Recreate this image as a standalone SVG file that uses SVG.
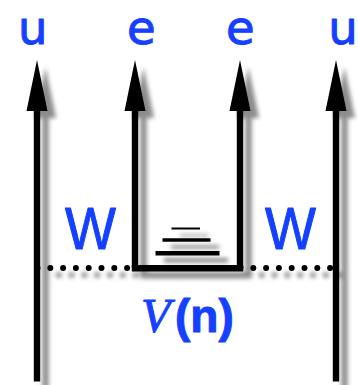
<svg xmlns="http://www.w3.org/2000/svg" width="358" height="385" viewBox="0 0 358 385">
<defs>
<filter id="sh" filterUnits="userSpaceOnUse" x="0" y="40" width="358" height="345"><feDropShadow dx="8.5" dy="7" stdDeviation="2" flood-color="#000" flood-opacity="0.45"/></filter>
</defs>
<style>
.ln{fill:none;stroke:#000;stroke-width:6.4}
.dot{fill:none;stroke:#000;stroke-width:6;stroke-linecap:round;stroke-dasharray:0 12.8}
.st{stroke:#000;fill:none}
.t{font-family:"Liberation Sans",Arial,sans-serif;fill:#1440ff;stroke:#1440ff;stroke-width:1;stroke-linejoin:round}
.h{font-family:"DejaVu Sans",sans-serif;font-size:46.5px}
</style>
<rect width="358" height="385" fill="#fff"/>
<g id="connectors" filter="url(#sh)">
<path class="dot" d="M37.5 268H135"/>
<path class="dot" d="M240.500 268H336"/>
<path class="ln" d="M37 381.500V111"/>
<path d="M26.500 111L37 60L47.500 111Z"/>
<path class="ln" d="M135 268V111"/>
<path d="M124.500 111L135 60L145.500 111Z"/>
<path class="ln" d="M240 268V111"/>
<path d="M229.500 111L240 60L250.500 111Z"/>
<path class="ln" d="M336 381.500V111"/>
<path d="M325.500 111L336 60L346.500 111Z"/>
<path class="ln" d="M131.800 268.300H243.200"/>
<path class="st" stroke-width="2" d="M171.500 228.500H200"/>
<path class="st" stroke-width="3.600" d="M162.500 240H210.500"/>
<path class="st" stroke-width="4.600" d="M155.500 253.300H219.500"/>
</g>
<g id="label-u-left"><text class="t h" x="18" y="43.500">u</text></g>
<g id="label-e-left"><text class="t h" x="127" y="43.500">e</text></g>
<g id="label-e-right"><text class="t h" x="226" y="43.500">e</text></g>
<g id="label-u-right"><text class="t h" x="328.300" y="43.500">u</text></g>
<g id="label-w-left"><text class="t" transform="translate(65 249) scale(.9 1)" font-size="60">W</text></g>
<g id="label-w-right"><text class="t" transform="translate(265 249) scale(.9 1)" font-size="60">W</text></g>
<g id="label-vn"><text class="t" x="141" y="332" font-size="48" style="font-family:'Liberation Serif',serif;font-style:italic">V</text><text class="t" x="175" y="332" font-size="46" font-weight="bold">(n)</text></g>
</svg>
